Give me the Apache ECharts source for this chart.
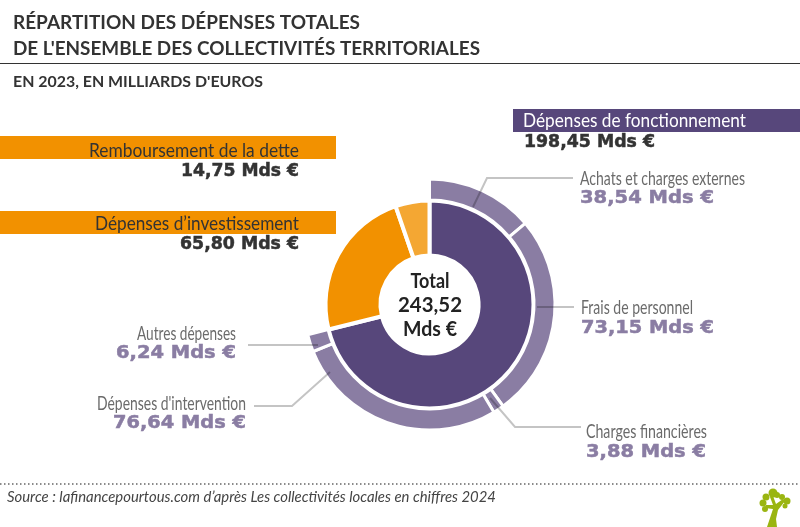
<!DOCTYPE html>
<html><head><meta charset="utf-8">
<style>html,body{margin:0;padding:0;background:#fff}#c{width:800px;height:527px}</style>
<script src="https://cdn.jsdelivr.net/npm/echarts@6/dist/echarts.min.js"></script>
</head><body><div id="c"></div>
<script>
const innerNames=["Dépenses de fonctionnement","Dépenses d’investissement","Remboursement de la dette"];
const innerValues=[198.45,65.80,14.75];
const outerNames=["Achats et charges externes","Frais de personnel","Charges financières","Dépenses d'intervention","Autres dépenses"];
const outerValues=[38.54,73.15,3.88,76.64,6.24];
const totalValue=243.52;
const titleLines=["RÉPARTITION DES DÉPENSES TOTALES","DE L'ENSEMBLE DES COLLECTIVITÉS TERRITORIALES"];
const subtitle="EN 2023, EN MILLIARDS D'EUROS";
const sourceText="Source : lafinancepourtous.com d’après Les collectivités locales en chiffres 2024";

const PURPLE='#57477b',LILAC='#8a7da3',ORANGE='#f29100',LORANGE='#f4a733',INK='#333333',GREY='#6b6b6b',LEAD='rgba(0,0,0,0.23)';
const fmt=v=>v.toFixed(2).replace('.',',');
const mds=v=>fmt(v)+' Mds €';
const F='Lato, sans-serif';
const ctx=document.createElement('canvas').getContext('2d');
// text squeezed horizontally to the reference's width (the reference font is a Futura)
const txt=(text,x,y,font,fill,align,w,heavy)=>{
 ctx.font=font;const m=ctx.measureText(text).width;
 const style={text,font,fill,align:align||'left',verticalAlign:'middle'};
 if(heavy){style.stroke=fill;style.lineWidth=heavy;}
 return {type:'text',x,y,z:20,silent:true,scaleX:w?w/m:1,style};
};
const rect=(x,y,w,h,fill)=>({type:'rect',z:5,silent:true,shape:{x,y,width:w,height:h},style:{fill}});
const lead=pts=>({type:'polyline',z:15,silent:true,shape:{points:pts},style:{stroke:LEAD,lineWidth:2,fill:null}});
const VAL='bold 17.5px "DejaVu Sans", sans-serif', NAME='19px '+F, BAR='18.5px '+F, CENTER='bold 20.5px '+F;

const outerAnn=[
 {i:0,x:580,y:179,vy:198,a:'left',w:165,vw:134,pts:[[473,207],[487,178],[573,178]]},
 {i:1,x:581,y:308,vy:328,a:'left',w:112,vw:133,pts:[[537,307],[574,307]]},
 {i:2,x:586,y:432,vy:452,a:'left',w:121,vw:120,pts:[[490,398],[515,427],[581,427]]},
 {i:3,x:246,y:404,vy:423,a:'right',w:149,vw:133,pts:[[330,372],[292,406],[254,406]]},
 {i:4,x:236,y:334,vy:353,a:'right',w:99,vw:120,pts:[[318,345],[248,345]]}
];
const graphic=[
 txt(titleLines[0],13,23,'bold 19px '+F,INK,'left',347),
 txt(titleLines[1],13,49,'bold 19px '+F,INK,'left',467),
 {type:'line',silent:true,shape:{x1:0,y1:63.5,x2:800,y2:63.5},style:{stroke:'#333',lineWidth:1}},
 txt(subtitle,13,82,'bold 15.5px '+F,INK,'left',250),
 rect(513,109,287,23,PURPLE),
 rect(0,136,336,23,ORANGE),
 rect(0,211,336,23,ORANGE),
 txt(innerNames[0],523,121,BAR,'#fff','left',223),
 txt(mds(innerValues[0]),524,142,VAL,INK,'left',131,0.5),
 txt(innerNames[2],299,151,BAR,INK,'right',210),
 txt(mds(innerValues[2]),299,171,VAL,INK,'right',118,0.5),
 txt(innerNames[1],299,224,BAR,INK,'right',204),
 txt(mds(innerValues[1]),299,244,VAL,INK,'right',119,0.5),
 txt('Total',430,281,CENTER,'#222','center',39),
 txt(fmt(totalValue),430,305,CENTER,'#222','center',64),
 txt('Mds €',430,329,CENTER,'#222','center',54),
 {type:'line',silent:true,shape:{x1:0,y1:484,x2:800,y2:484},style:{stroke:'#666',lineWidth:1.5,lineDash:[1.5,2.5]}},
 txt(sourceText,7,497,'italic 15px '+F,'#444','left',489)
];
outerAnn.forEach(o=>{
 graphic.push(lead(o.pts));
 graphic.push(txt(outerNames[o.i],o.x,o.y,NAME,GREY,o.a,o.w));
 graphic.push(txt(mds(outerValues[o.i]),o.x,o.vy,VAL,LILAC,o.a,o.vw,0.5));
});
// logo
const G='#9ab511';
[[773,493,4.5],[766,497,3.5],[763,503,3.5],[782,497,3],[787,501,3.5],[765,509,3],[777,495,3],[785,506,2.5]].forEach(c=>
 graphic.push({type:'circle',z:6,silent:true,shape:{cx:c[0],cy:c[1],r:c[2]},style:{fill:G}}));
graphic.push({type:'polygon',z:6,silent:true,shape:{points:[[767,527],[771,515],[773,509],[765,508],[766,505],[773,505],[770,497],[773,496],[776,504],[783,499],[785,501],[778,510],[776,519],[777,527]]},style:{fill:G}});

const remainder=innerValues[1]+innerValues[2];
const center=[429.5,304.5];
echarts.init(document.getElementById('c'),null,{renderer:'canvas'}).setOption({
 animation:false,backgroundColor:'#fff',graphic,
 series:[
  {type:'pie',silent:true,startAngle:90,clockwise:true,center,radius:[49,104],label:{show:false},labelLine:{show:false},
   itemStyle:{borderColor:'#fff',borderWidth:4},
   data:innerNames.map((n,i)=>({name:n,value:innerValues[i],itemStyle:{color:[PURPLE,ORANGE,LORANGE][i]}}))},
  {type:'pie',silent:true,startAngle:90,clockwise:true,center,radius:[104.5,125.5],label:{show:false},labelLine:{show:false},
   itemStyle:{borderColor:'#fff',borderWidth:3,color:LILAC},
   data:outerNames.map((n,i)=>({name:n,value:outerValues[i]})).concat([{name:'',value:remainder,itemStyle:{color:'rgba(0,0,0,0)',borderWidth:0}}])}
 ]
});
</script></body></html>
